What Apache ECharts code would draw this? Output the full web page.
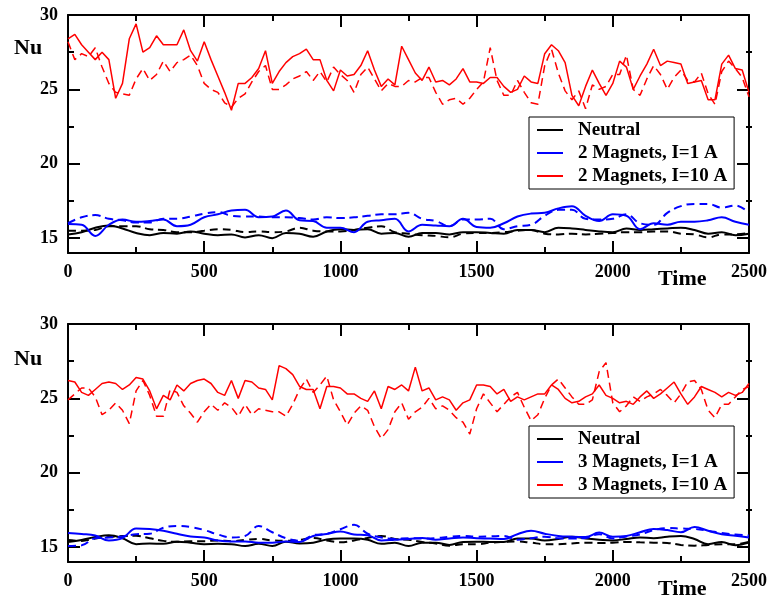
<!DOCTYPE html>
<html>
<head>
<meta charset="utf-8">
<script src="https://cdn.jsdelivr.net/npm/echarts@6/dist/echarts.min.js"></script>
<style>
  html, body { margin: 0; padding: 0; background: #fff; }
  #nu-chart { width: 770px; height: 602px; }
</style>
</head>
<body>
<div id="nu-chart"></div>
<script>
// time grids (red curves are sampled finer than blue / black ones)
const timeFine = [];
for (let t = 0; t <= 2500; t += 25) timeFine.push(t);
const timeCoarse = [];
for (let t = 0; t <= 2500; t += 50) timeCoarse.push(t);

const xTicks = [0, 500, 1000, 1500, 2000, 2500];
const yMajorTicks = [15, 20, 25, 30];
const yMinorTicks = [17.5, 22.5, 27.5];

const legendTop = ["Neutral", "2 Magnets, I=1 A", "2 Magnets, I=10 A"];
const legendBottom = ["Neutral", "3 Magnets, I=1 A", "3 Magnets, I=10 A"];

// ---- top panel: 2 magnets ----
const top10Solid = [
  28.4, 28.7, 28.0, 27.5, 27.0, 27.5, 27.0, 24.4, 25.4, 28.4, 29.4, 27.5, 27.8, 28.6, 28.0, 28.0, 28.0, 29.0, 27.6, 26.9,
  28.2, 27.0, 25.9, 24.8, 23.6, 25.4, 25.4, 25.8, 26.4, 27.6, 25.4, 26.2, 26.8, 27.2, 27.4, 27.7, 27.0, 27.0, 25.6, 24.9,
  26.3, 25.9, 26.0, 26.6, 27.6, 26.3, 25.2, 25.7, 25.3, 27.9, 27.0, 26.1, 25.6, 26.5, 25.5, 25.6, 25.3, 25.7, 26.4, 25.5,
  25.5, 25.4, 25.8, 25.8, 25.2, 24.8, 25.0, 25.9, 25.5, 25.4, 27.4, 28.0, 27.6, 26.8, 24.6, 23.9, 25.2, 26.3, 25.4, 24.6,
  25.4, 26.9, 26.5, 25.0, 25.9, 26.7, 27.7, 26.6, 26.9, 26.8, 26.7, 25.4, 25.5, 25.6, 24.3, 24.3, 26.7, 27.3, 26.4, 26.3,
  24.8
];
const top10Dashed = [
  28.2, 27.0, 27.4, 27.2, 27.8, 26.5, 25.4, 24.8, 24.7, 24.6, 25.7, 26.4, 25.6, 26.0, 26.9, 26.2, 26.8, 27.0, 27.3, 26.6,
  25.4, 25.0, 24.8, 24.1, 23.8, 24.4, 24.7, 25.5, 26.2, 26.6, 25.0, 25.0, 25.3, 25.7, 25.9, 26.2, 25.6, 26.2, 25.5, 26.5,
  26.0, 25.6, 24.8, 26.0, 26.5, 25.7, 24.9, 25.4, 25.2, 25.2, 25.6, 25.5, 25.8, 25.8, 24.8, 24.0, 24.3, 24.4, 24.0, 24.4,
  25.0, 25.5, 27.8, 25.6, 24.6, 24.6, 25.6, 24.8, 24.1, 24.0, 26.6, 27.7, 26.1, 24.9, 24.3, 24.9, 23.7, 25.3, 25.0, 25.2,
  26.0, 26.0, 27.3, 25.0, 24.6, 25.7, 26.6, 26.0, 25.0, 25.8, 26.3, 25.6, 25.5, 26.1, 24.7, 24.0, 26.2, 26.9, 26.4, 25.8,
  24.5
];
const top1Solid = [
  15.95, 15.9, 15.15, 15.9, 16.25, 16.1, 16.15, 16.25, 15.8, 15.9, 16.4, 16.6, 16.85, 16.9, 16.4, 16.45, 16.85, 16.2,
  16.15, 15.7, 15.7, 15.4, 16.1, 16.2, 16.3, 15.45, 15.9, 15.85, 15.8, 16.3, 15.75, 15.7, 16.0, 16.45, 16.65, 16.7,
  17.0, 17.15, 16.5, 16.15, 16.6, 16.5, 15.6, 16.0, 15.9, 16.1, 16.1, 16.2, 16.4, 16.1, 15.9
];
const top1Dashed = [
  16.0, 16.4, 16.55, 16.3, 16.2, 16.05, 16.05, 16.3, 16.3, 16.45, 16.65, 16.75, 16.5, 16.45, 16.45, 16.4, 16.4, 16.35,
  16.25, 16.4, 16.35, 16.4, 16.5, 16.6, 16.6, 16.7, 16.3, 16.15, 15.8, 16.25, 16.25, 16.3, 15.6, 15.8, 15.9, 16.5,
  16.9, 16.9, 16.3, 16.25, 16.3, 16.6, 16.0, 15.9, 16.7, 17.15, 17.3, 17.3, 17.05, 17.2, 16.7
];
const topNeutralSolid = [
  15.25, 15.4, 15.7, 15.85, 15.65, 15.35, 15.2, 15.35, 15.3, 15.45, 15.3, 15.2, 15.25, 15.05, 15.2, 15.0, 15.35, 15.3,
  15.1, 15.45, 15.6, 15.55, 15.6, 15.3, 15.35, 15.1, 15.35, 15.35, 15.25, 15.4, 15.4, 15.35, 15.3, 15.55, 15.55, 15.4,
  15.7, 15.65, 15.55, 15.45, 15.4, 15.65, 15.55, 15.6, 15.65, 15.7, 15.55, 15.3, 15.4, 15.2, 15.3
];
const topNeutralDashed = [
  15.5, 15.5, 15.55, 15.8, 15.8, 15.8, 15.6, 15.55, 15.4, 15.4, 15.5, 15.6, 15.55, 15.4, 15.45, 15.4, 15.45, 15.7,
  15.5, 15.45, 15.45, 15.55, 15.7, 15.8, 15.4, 15.3, 15.2, 15.15, 15.05, 15.3, 15.35, 15.35, 15.4, 15.5, 15.55, 15.3,
  15.25, 15.3, 15.25, 15.3, 15.35, 15.4, 15.4, 15.45, 15.45, 15.3, 15.25, 15.05, 15.25, 15.25, 15.35
];

// ---- bottom panel: 3 magnets ----
const bot10Solid = [
  26.2, 26.1, 25.4, 25.2, 25.6, 26.0, 26.1, 26.0, 25.6, 25.9, 26.4, 26.3, 25.5, 24.3, 25.2, 24.9, 25.9, 25.5, 26.0, 26.2,
  26.3, 26.0, 25.4, 25.2, 26.2, 25.0, 26.2, 26.1, 25.7, 25.6, 24.9, 27.2, 27.0, 26.6, 25.8, 25.6, 25.6, 24.3, 25.8, 25.8,
  25.7, 25.3, 25.3, 25.0, 24.8, 25.5, 24.3, 25.8, 25.6, 25.9, 25.5, 27.1, 25.5, 25.7, 24.9, 25.1, 24.9, 24.2, 24.7, 24.9,
  25.9, 25.9, 25.8, 25.3, 25.6, 24.8, 25.1, 24.9, 25.1, 25.3, 25.3, 25.9, 25.6, 25.0, 24.7, 24.8, 25.1, 25.3, 25.9, 25.2,
  25.0, 24.7, 24.8, 24.6, 25.1, 25.5, 25.0, 25.3, 25.7, 26.1, 25.3, 24.6, 25.1, 25.8, 25.6, 25.4, 25.1, 25.4, 25.2, 25.4,
  26.0
];
const bot10Dashed = [
  24.9, 25.3, 25.7, 25.7, 25.1, 23.9, 24.2, 24.7, 24.2, 23.3, 25.5, 26.2, 25.2, 23.8, 23.8, 25.6, 25.4, 24.5, 24.0, 23.4,
  24.1, 24.6, 24.2, 24.7, 24.4, 23.8, 24.6, 23.9, 24.3, 24.2, 24.1, 24.1, 23.8, 24.6, 25.6, 26.3, 25.4, 25.9, 26.5, 24.9,
  24.1, 23.2, 24.0, 24.5, 24.2, 23.1, 22.3, 22.9, 24.1, 24.7, 23.6, 24.1, 24.4, 25.0, 24.3, 24.5, 24.2, 23.7, 23.4, 22.6,
  24.3, 25.3, 24.7, 24.1, 24.6, 25.1, 25.4, 24.4, 23.5, 23.9, 25.0, 25.9, 26.3, 25.7, 25.1, 24.6, 24.6, 24.9, 26.8, 27.4,
  24.7, 24.1, 24.5, 25.1, 24.8, 25.1, 25.3, 25.6, 25.2, 24.7, 25.3, 26.1, 26.2, 25.6, 24.2, 23.7, 24.6, 24.6, 25.1, 25.6,
  25.8
];
const bot1Solid = [
  15.95, 15.88, 15.78, 15.45, 15.6, 16.25, 16.22, 16.1, 15.9, 15.72, 15.65, 15.45, 15.38, 15.38, 15.3, 15.3, 15.38,
  15.35, 15.75, 15.88, 16.05, 15.85, 15.8, 15.45, 15.5, 15.55, 15.62, 15.5, 15.58, 15.65, 15.6, 15.58, 15.55, 15.87,
  16.1, 15.9, 15.75, 15.7, 15.68, 15.98, 15.7, 15.75, 16.0, 16.22, 16.15, 16.0, 16.35, 16.1, 15.87, 15.76, 15.65
];
const bot1Dashed = [
  15.08, 15.12, 15.6, 15.65, 15.72, 15.87, 15.9, 16.3, 16.42, 16.35, 16.15, 15.85, 15.65, 15.75, 16.42, 16.0, 15.6,
  15.42, 15.8, 15.9, 16.2, 16.5, 15.9, 15.65, 15.55, 15.6, 15.58, 15.6, 15.7, 15.75, 15.7, 15.72, 15.75, 15.5, 15.6,
  15.7, 15.6, 15.58, 15.62, 15.87, 15.58, 15.72, 15.85, 16.15, 16.28, 16.25, 16.22, 16.1, 15.95, 15.85, 15.78
];
const botNeutralSolid = [
  15.35, 15.48, 15.68, 15.8, 15.6, 15.2, 15.25, 15.22, 15.36, 15.3, 15.2, 15.22, 15.2, 15.07, 15.22, 15.08, 15.36,
  15.25, 15.3, 15.52, 15.58, 15.58, 15.5, 15.22, 15.3, 15.08, 15.3, 15.3, 15.15, 15.35, 15.36, 15.35, 15.35, 15.58,
  15.58, 15.45, 15.55, 15.7, 15.58, 15.5, 15.45, 15.55, 15.65, 15.6, 15.7, 15.75, 15.55, 15.2, 15.35, 15.13, 15.3
];
const botNeutralDashed = [
  15.48, 15.42, 15.58, 15.68, 15.74, 15.76, 15.6, 15.42, 15.36, 15.4, 15.4, 15.45, 15.4, 15.48, 15.55, 15.45, 15.42,
  15.48, 15.62, 15.45, 15.32, 15.45, 15.62, 15.75, 15.55, 15.5, 15.35, 15.25, 15.1, 15.2, 15.2, 15.3, 15.35, 15.38,
  15.3, 15.2, 15.2, 15.25, 15.3, 15.28, 15.3, 15.35, 15.32, 15.3, 15.28, 15.15, 15.1, 15.15, 15.2, 15.2, 15.35
];

const FONT = "Liberation Serif";
const BLACK = "#000000";
const BLUE = "#0000ff";
const RED = "#ff0000";
const PANEL_TOPS = [15, 324];

function pairs(times, values) {
  return times.map((t, i) => [t, values[i]]);
}

function makeGrid(top) {
  return { left: 68, right: 18, top: top, height: 238, containLabel: false };
}

const tickStyle = { color: BLACK, width: 2 };

function makeXAxes(gridIndex) {
  const base = {
    type: "value",
    gridIndex: gridIndex,
    min: 0,
    max: 2500,
    interval: 500,
    splitLine: { show: false },
    axisLine: { onZero: false, lineStyle: { color: BLACK, width: 2 } },
    axisTick: { inside: true, length: 12, lineStyle: tickStyle },
    minorTick: { show: true, splitNumber: 2, length: 6, lineStyle: tickStyle },
  };
  return [
    Object.assign({}, base, {
      position: "bottom",
      axisLabel: {
        show: true,
        margin: 10,
        color: BLACK,
        fontFamily: FONT,
        fontWeight: "bold",
        fontSize: 18,
        customValues: xTicks,
        formatter: (v) => String(v),
      },
    }),
    Object.assign({}, base, { position: "top", axisLabel: { show: false } }),
  ];
}

// major ticks + labels, on the panel's own grid
function makeMajorYAxes(gridIndex) {
  const base = {
    type: "value",
    gridIndex: gridIndex,
    min: 14,
    max: 30,
    splitLine: { show: false },
    axisLine: { onZero: false, lineStyle: { color: BLACK, width: 2 } },
    axisTick: { inside: true, length: 12, customValues: yMajorTicks, lineStyle: tickStyle },
  };
  return [
    Object.assign({}, base, {
      position: "left",
      axisLabel: {
        margin: 10,
        color: BLACK,
        fontFamily: FONT,
        fontWeight: "bold",
        fontSize: 18,
        customValues: yMajorTicks,
      },
    }),
    Object.assign({}, base, { position: "right", axisLabel: { show: false } }),
  ];
}

// minor ticks only, on an overlay grid with the same box
function makeMinorYAxes(gridIndex) {
  const base = {
    type: "value",
    gridIndex: gridIndex,
    min: 14,
    max: 30,
    splitLine: { show: false },
    axisLine: { show: false },
    axisLabel: { show: false },
    axisTick: { show: true, inside: true, length: 6, customValues: yMinorTicks, lineStyle: tickStyle },
  };
  return [
    Object.assign({}, base, { position: "left" }),
    Object.assign({}, base, { position: "right" }),
  ];
}

function hiddenXAxis(gridIndex) {
  return { type: "value", gridIndex: gridIndex, min: 0, max: 2500, show: false };
}

function line(name, times, values, color, dashed, width, smooth, panel) {
  return {
    name: name,
    type: "line",
    xAxisIndex: panel * 2,
    yAxisIndex: panel * 2,
    data: pairs(times, values),
    symbol: "none",
    smooth: smooth,
    color: color,
    lineStyle: { color: color, width: width, type: dashed ? [8, 5] : "solid" },
    z: 3,
  };
}

function makeLegend(names, top) {
  return {
    data: names,
    orient: "vertical",
    left: 529,
    top: top,
    padding: [3, 7, 3, 8],
    itemGap: 3,
    itemWidth: 36,
    itemHeight: 2,
    icon: "path://M0,0h26v2h-26zM36,0L36,2",
    borderColor: BLACK,
    borderWidth: 1,
    backgroundColor: "#fff",
    selectedMode: false,
    textStyle: {
      color: BLACK,
      fontFamily: FONT,
      fontWeight: "bold",
      fontSize: 19,
      lineHeight: 20,
    },
  };
}

function axisTitle(text, left, top) {
  return {
    text: text,
    left: left,
    top: top,
    padding: 0,
    textStyle: { color: BLACK, fontFamily: FONT, fontWeight: "bold", fontSize: 22 },
  };
}

const chart = echarts.init(document.getElementById("nu-chart"), null, { renderer: "canvas" });

const option = {
  animation: false,
  backgroundColor: "#fff",
  title: [
    axisTitle("Nu", 14, 37),
    axisTitle("Time", 658, 268),
    axisTitle("Nu", 14, 348),
    axisTitle("Time", 658, 578),
  ],
  legend: [makeLegend(legendTop, 117), makeLegend(legendBottom, 426)],
  grid: [makeGrid(PANEL_TOPS[0]), makeGrid(PANEL_TOPS[1]), makeGrid(PANEL_TOPS[0]), makeGrid(PANEL_TOPS[1])],
  xAxis: makeXAxes(0).concat(makeXAxes(1), [hiddenXAxis(2), hiddenXAxis(3)]),
  yAxis: makeMajorYAxes(0).concat(makeMajorYAxes(1), makeMinorYAxes(2), makeMinorYAxes(3)),
  series: [
    line("Neutral", timeCoarse, topNeutralSolid, BLACK, false, 2, 0.4, 0),
    line("Neutral (dashed)", timeCoarse, topNeutralDashed, BLACK, true, 2, 0.4, 0),
    line(legendTop[1], timeCoarse, top1Solid, BLUE, false, 2, 0.4, 0),
    line(legendTop[1] + " (dashed)", timeCoarse, top1Dashed, BLUE, true, 2, 0.4, 0),
    line(legendTop[2], timeFine, top10Solid, RED, false, 1.5, false, 0),
    line(legendTop[2] + " (dashed)", timeFine, top10Dashed, RED, true, 1.5, false, 0),

    line("Neutral", timeCoarse, botNeutralSolid, BLACK, false, 2, 0.4, 1),
    line("Neutral (dashed) ", timeCoarse, botNeutralDashed, BLACK, true, 2, 0.4, 1),
    line(legendBottom[1], timeCoarse, bot1Solid, BLUE, false, 2, 0.4, 1),
    line(legendBottom[1] + " (dashed)", timeCoarse, bot1Dashed, BLUE, true, 2, 0.4, 1),
    line(legendBottom[2], timeFine, bot10Solid, RED, false, 1.5, false, 1),
    line(legendBottom[2] + " (dashed)", timeFine, bot10Dashed, RED, true, 1.5, false, 1),
  ],
};

chart.setOption(option);
</script>
</body>
</html>
